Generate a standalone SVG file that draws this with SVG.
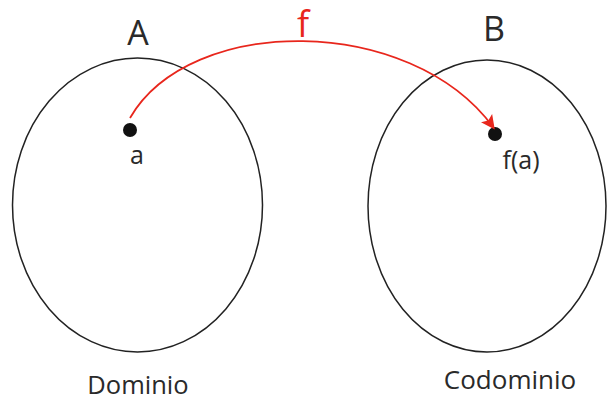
<svg xmlns="http://www.w3.org/2000/svg" width="608" height="400" viewBox="0 0 608 400">
<style>
.set{fill:none;stroke:#222;stroke-width:1.5}
.t{font-family:"Open Sans","Liberation Sans",sans-serif;fill:#2a2a2a}
.dot{fill:#111}
</style>
<defs>
<marker id="ah" markerWidth="14" markerHeight="14" refX="11" refY="7" orient="auto" markerUnits="userSpaceOnUse">
<path d="M0,0 L14,7 L0,14 L3,7 Z" fill="#e8261c"/>
</marker>
</defs>
<rect width="608" height="400" fill="#fff"/>
<g id="A">
<ellipse class="set" cx="137.5" cy="205" rx="125" ry="147"/>
<text class="t" x="138" y="45" font-size="34" text-anchor="middle">A</text>
<text class="t" x="138" y="394" font-size="25.5" text-anchor="middle">Dominio</text>
</g>
<g id="a">
<circle class="dot" cx="130" cy="130" r="7"/>
<text class="t" x="137" y="164" font-size="25" text-anchor="middle">a</text>
</g>
<g id="B">
<ellipse class="set" cx="487" cy="206" rx="119" ry="146"/>
<text class="t" x="494" y="41" font-size="34" text-anchor="middle">B</text>
<text class="t" x="510" y="389" font-size="26" text-anchor="middle">Codominio</text>
</g>
<g id="fa">
<circle class="dot" cx="495" cy="134" r="7"/>
<text class="t" x="521" y="169" font-size="25" text-anchor="middle">f(a)</text>
</g>
<g id="connectors">
<path d="M130,118 C190,14 410,14 493,127" fill="none" stroke="#e8261c" stroke-width="1.8" marker-end="url(#ah)"/>
<text x="303" y="37" font-size="36" font-family="Open Sans, Liberation Sans, sans-serif" fill="#e8261c" text-anchor="middle">f</text>
</g>
</svg>
